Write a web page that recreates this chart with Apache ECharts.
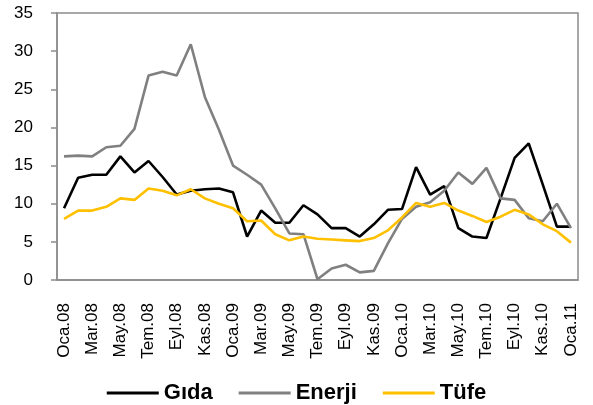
<!DOCTYPE html>
<html><head><meta charset="utf-8">
<script src="https://cdn.jsdelivr.net/npm/echarts@6/dist/echarts.min.js"></script>
<style>html,body{margin:0;padding:0;background:#fff}#c{width:593px;height:405px}</style>
</head><body><div id="c"></div>
<script>
const categories = ["Oca.08","Şub.08","Mar.08","Nis.08","May.08","Haz.08","Tem.08","Ağu.08","Eyl.08","Eki.08","Kas.08","Ara.08",
"Oca.09","Şub.09","Mar.09","Nis.09","May.09","Haz.09","Tem.09","Ağu.09","Eyl.09","Eki.09","Kas.09","Ara.09",
"Oca.10","Şub.10","Mar.10","Nis.10","May.10","Haz.10","Tem.10","Ağu.10","Eyl.10","Eki.10","Kas.10","Ara.10","Oca.11"];
const gida = [9.4,13.4,13.8,13.8,16.2,14.1,15.6,13.5,11.2,11.7,11.9,12.0,11.5,5.7,9.1,7.5,7.5,9.8,8.6,6.8,6.8,5.7,7.3,9.2,9.3,14.8,11.2,12.3,6.8,5.7,5.5,10.7,16.0,17.9,12.5,7.0,7.0];
const enerji = [16.2,16.3,16.2,17.4,17.6,19.8,26.8,27.3,26.8,30.9,24.0,19.7,15.0,13.8,12.5,9.4,6.1,6.0,0.1,1.5,2.0,1.0,1.2,4.8,8.0,9.6,10.2,11.7,14.1,12.6,14.7,10.7,10.5,8.1,7.7,10.0,6.8];
const tufe = [8.0,9.1,9.1,9.6,10.7,10.5,12.0,11.7,11.1,11.9,10.7,10.0,9.4,7.7,7.8,6.0,5.2,5.7,5.4,5.3,5.2,5.1,5.5,6.5,8.2,10.1,9.6,10.1,9.1,8.4,7.6,8.3,9.2,8.6,7.3,6.4,4.9];
const yTicks = {min:0, max:35, interval:5};

const chart = echarts.init(document.getElementById('c'));
const font = "'Liberation Sans', Arial, sans-serif";
chart.setOption({
  animation:false,
  textStyle:{fontFamily:font},
  grid:{left:57,right:15,top:13,bottom:125,show:true,borderColor:'#8c8c8c',borderWidth:1.5,backgroundColor:'transparent'},
  legend:{top:377,left:'center',itemGap:26,itemWidth:52,itemHeight:3,icon:'rect',
    textStyle:{fontFamily:font,fontWeight:'bold',fontSize:22,color:'#000'},
    data:['Gıda','Enerji','Tüfe']},
  xAxis:{type:'category',data:categories,boundaryGap:true,
    axisLine:{lineStyle:{color:'#8c8c8c',width:1.5}},
    axisTick:{interval:1,length:5,lineStyle:{color:'#8c8c8c',width:1.5}},
    axisLabel:{interval:1,rotate:90,fontSize:17,color:'#000',margin:23,fontFamily:font}},
  yAxis:{type:'value',min:yTicks.min,max:yTicks.max,interval:yTicks.interval,
    axisLine:{show:true,lineStyle:{color:'#8c8c8c',width:1.5}},
    axisTick:{show:true,length:6,lineStyle:{color:'#8c8c8c',width:1.5}},
    splitLine:{show:false},
    axisLabel:{fontSize:17,color:'#000',margin:24,fontFamily:font}},
  series:[
    {name:'Gıda',type:'line',data:gida,symbol:'none',lineStyle:{color:'#000',width:2.6},itemStyle:{color:'#000'}},
    {name:'Enerji',type:'line',data:enerji,symbol:'none',lineStyle:{color:'#808080',width:2.6},itemStyle:{color:'#808080'}},
    {name:'Tüfe',type:'line',data:tufe,symbol:'none',lineStyle:{color:'#FFC000',width:2.6},itemStyle:{color:'#FFC000'}}
  ]
});
</script></body></html>
